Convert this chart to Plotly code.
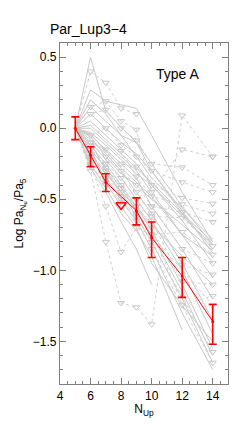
import plotly.graph_objects as go

XS = [5, 6, 7, 8, 9, 10, 12, 14]

# detected ratios (solid grey lines)
solid_lines = [
    [0, 0.50, 0.12, None, -0.10, -0.30, -0.60, -0.85],
    [0, 0.27, 0.19, None, 0.14, -0.05, -0.45, -0.80],
    [0, 0.20, 0.10, -0.05, -0.10, -0.25, -0.55, -0.82],
    [0, 0.10, 0.00, -0.10, -0.18, -0.30, -0.58, -0.88],
    [0, 0.05, -0.05, -0.15, -0.25, -0.40, -0.65, -0.95],
    [0, 0.00, -0.10, -0.20, -0.30, -0.45, -0.75, -1.05],
    [0, -0.05, -0.15, -0.25, -0.35, -0.55, -0.85, -1.20],
    [0, -0.08, -0.18, -0.30, -0.45, -0.60, -0.95, -1.35],
    [0, -0.10, -0.22, -0.35, -0.50, -0.65, -1.00, -1.45],
    [0, -0.12, -0.25, -0.40, -0.55, -0.72, -1.10, -1.55],
    [0, -0.15, -0.28, -0.42, -0.58, -0.75, -1.15, -1.60],
    [0, -0.18, -0.32, -0.45, -0.62, -0.80, -1.20, -1.65],
    [0, -0.20, -0.35, -0.50, -0.65, -0.85, -1.30, -1.70],
    [0, -0.25, -0.42, -0.60, -0.72, -0.90, -1.42, None],
    [0, -0.03, -0.12, -0.22, -0.32, -0.40, -0.62, -0.82],
    [0, 0.02, -0.08, -0.18, -0.28, -0.38, -0.60, -0.80],
    [0, -0.06, -0.20, -0.32, -0.40, -0.50, -0.68, -0.86],
    [0, 0.15, 0.05, -0.05, -0.20, -0.35, None, -0.78],
    [0, -0.10, -0.30, -0.45, -0.55, -0.68, -0.90, -1.10],
    [0, -0.14, -0.38, -0.55, -0.70, -0.95, -1.25, -1.50],
    [0, -0.28, -0.45, -0.66, -0.85, -1.10, None, None],
    [0, -0.04, -0.16, -0.28, -0.38, -0.48, -0.75, -0.90],
]

# upper limits (dotted grey lines with triangles)
limit_lines = [
    [0, 0.40, 0.32, 0.14, 0.10, None, None, None],
    [0, 0.15, 0.19, 0.05, -0.01, -0.45, -0.15, -0.20],
    [0, 0.10, 0.13, 0.00, -0.085, -0.25, -0.275, -0.40],
    [0, -0.05, 0.00, -0.12, -0.20, -0.30, -0.38, -0.45],
    [0, -0.10, -0.15, -0.25, -0.27, -0.40, -0.49, -0.53],
    [0, -0.15, -0.25, -0.16, -0.34, -0.48, -0.535, -0.60],
    [0, -0.20, -0.30, -0.45, -0.50, -0.55, -0.59, -0.66],
    [0, -0.22, -0.36, -0.48, -0.55, -0.62, -0.63, -0.83],
    [0, -0.30, -0.80, -1.23, -1.26, -1.38, 0.09, -0.20],
    [0, -0.26, -0.55, -0.87, -0.70, -0.75, -0.73, -0.89],
    [0, -0.10, -0.20, -0.30, -0.40, -0.55, -0.85, -0.95],
    [0, -0.12, -0.25, -0.35, -0.45, -0.60, -0.96, -1.03],
    [0, -0.15, -0.28, -0.40, -0.50, -0.65, -1.08, -1.10],
    [0, -0.18, -0.30, -0.42, -0.55, -0.70, -1.245, -1.18],
    [0, -0.20, -0.35, -0.45, -0.60, -0.75, None, -1.245],
    [0, -0.22, -0.38, -0.50, -0.62, -0.80, None, -1.575],
    [0, -0.25, -0.40, -0.52, -0.65, -0.85, None, -1.65],
]

# mean ratio with errors (red)
mean_x = [5, 6, 7, 9, 10, 12, 14]
mean_y = [0.00, -0.19, -0.38, -0.58, -0.77, -1.04, -1.36]
err_plus = [0.08, 0.06, 0.06, 0.09, 0.11, 0.13, 0.12]
err_minus = [0.08, 0.08, 0.065, 0.10, 0.14, 0.15, 0.16]
lim_x = [8]
lim_y = [-0.54]

GREY = "#c8c8c8"
GREY_DOT = "#cfcfcf"
fig = go.Figure()

for ys in solid_lines:
    fig.add_trace(go.Scatter(x=XS, y=ys, mode="lines", connectgaps=True,
                             line=dict(color=GREY, width=1), hoverinfo="skip",
                             showlegend=False))
for ys in limit_lines:
    fig.add_trace(go.Scatter(x=XS, y=ys, mode="lines", connectgaps=True,
                             line=dict(color=GREY_DOT, width=1, dash="dot"),
                             hoverinfo="skip", showlegend=False))
    fig.add_trace(go.Scatter(x=XS[1:], y=ys[1:], mode="markers",
                             marker=dict(symbol="triangle-down-open", size=6,
                                         color=GREY, line=dict(width=1)),
                             hoverinfo="skip", showlegend=False))

fig.add_trace(go.Scatter(x=mean_x, y=mean_y, mode="lines+markers",
                         line=dict(color="red", width=1),
                         marker=dict(color="red", size=3),
                         error_y=dict(type="data", symmetric=False, array=err_plus,
                                      arrayminus=err_minus, color="red",
                                      thickness=1.6, width=4),
                         showlegend=False))
fig.add_trace(go.Scatter(x=lim_x, y=lim_y, mode="markers",
                         marker=dict(symbol="triangle-down-open", size=9, color="red",
                                     line=dict(width=1.5)),
                         showlegend=False))

FONT = "Liberation Sans, Arial, sans-serif"
axis_common = dict(showline=True, linecolor="#7f7f7f", linewidth=1.2, mirror="ticks",
                   ticks="inside", tickcolor="#7f7f7f", ticklen=6, tickwidth=1,
                   showgrid=False, zeroline=False, automargin=False,
                   tickfont=dict(family=FONT, size=12, color="black"))

fig.update_xaxes(range=[4, 15], tickvals=[4, 6, 8, 10, 12, 14],
                 minor=dict(dtick=0.5, tick0=4, ticks="inside", ticklen=3,
                            tickcolor="#7f7f7f"),
                 title=dict(text="N<sub>Up</sub>", font=dict(family=FONT, size=12, color="black"),
                            standoff=2),
                 **axis_common)
fig.update_yaxes(range=[-1.8, 0.6], tickvals=[-1.5, -1.0, -0.5, 0.0, 0.5],
                 ticktext=["\u22121.5", "\u22121.0", "\u22120.5", "0.0", "0.5"],
                 minor=dict(dtick=0.1, tick0=0, ticks="inside", ticklen=3,
                            tickcolor="#7f7f7f"),
                 title=dict(text="Log Pa<sub>N<sub>u</sub></sub>/Pa<sub>5</sub>",
                            font=dict(family=FONT, size=12, color="black"), standoff=6),
                 **axis_common)

fig.add_annotation(x=11.7, y=0.38, xref="x", yref="y", text="Type A", showarrow=False,
                   font=dict(family=FONT, size=14, color="black"))
fig.add_annotation(x=(48 - 60) / 168, y=1 + (43 - 29) / 341, xref="paper", yref="paper",
                   text="Par_Lup3\u22124", showarrow=False, xanchor="left", yanchor="middle",
                   font=dict(family=FONT, size=14, color="black"))

# page body has an 8px margin, so the figure is sized to fit inside it
fig.update_layout(width=232, height=420, margin=dict(l=52, r=12, t=35, b=44, autoexpand=False),
                  paper_bgcolor="white", plot_bgcolor="white")

fig.write_html("out.html")
